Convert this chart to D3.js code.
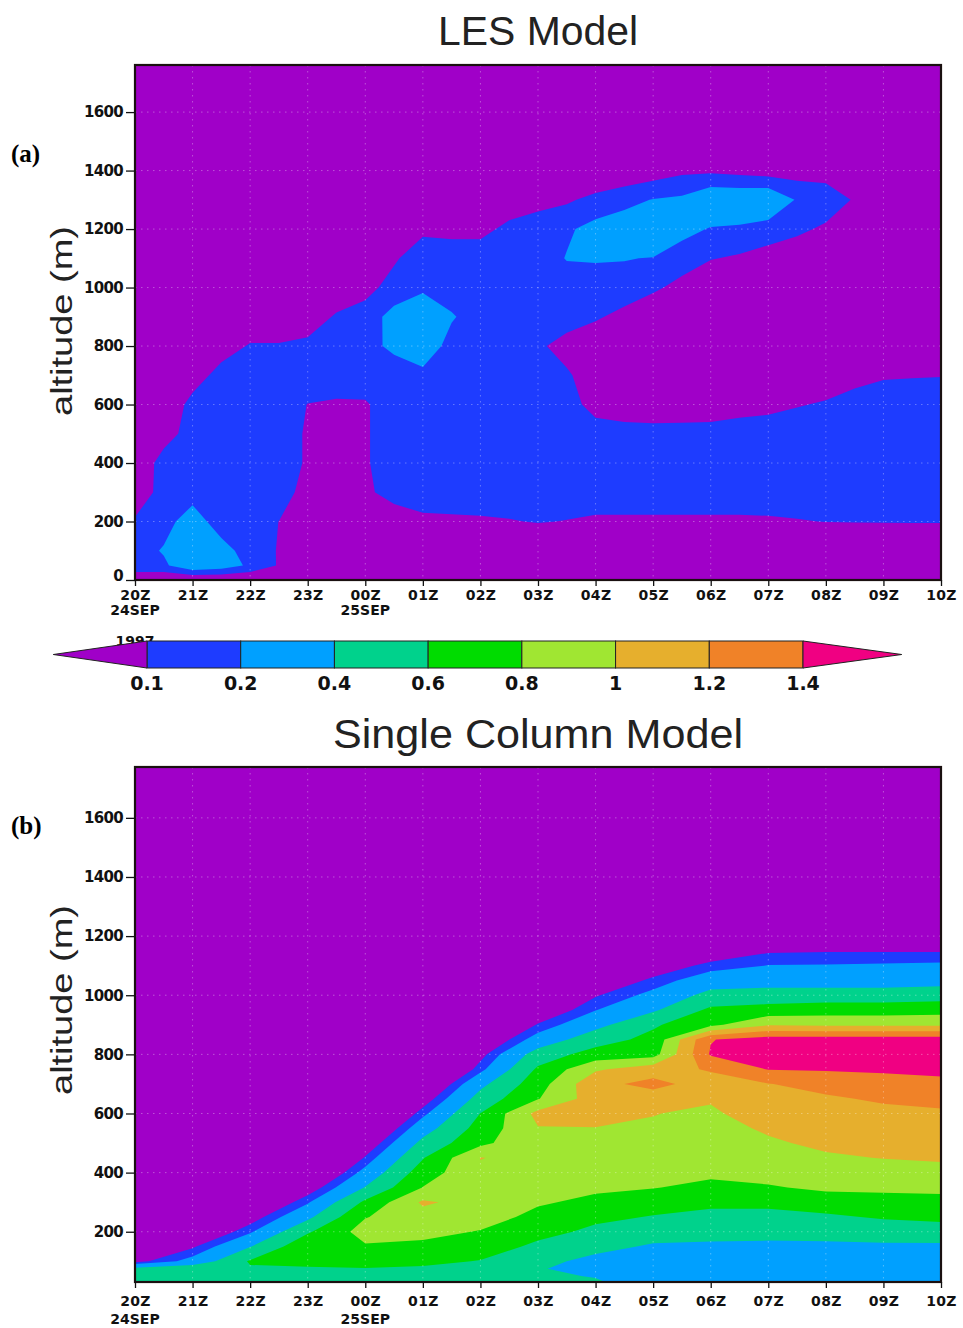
<!DOCTYPE html>
<html><head><meta charset="utf-8">
<script src="https://cdn.jsdelivr.net/npm/d3@7"></script>
<style>body{margin:0;background:#fff;} svg{display:block;}</style>
</head><body>
<svg id="chart" width="963" height="1328"></svg>
<script>
// ---------------- DATA ----------------
const levels = [0.1, 0.2, 0.4, 0.6, 0.8, 1, 1.2, 1.4];
const levelLabels = ["0.1", "0.2", "0.4", "0.6", "0.8", "1", "1.2", "1.4"];
const bandColors = ["rgb(160,0,200)", "rgb(30,60,255)", "rgb(0,160,255)", "rgb(0,210,140)",
  "rgb(0,220,0)", "rgb(160,230,50)", "rgb(230,175,45)", "rgb(240,130,40)", "rgb(240,0,130)"];
const hourLabels = ["20Z","21Z","22Z","23Z","00Z","01Z","02Z","03Z","04Z","05Z","06Z","07Z","08Z","09Z","10Z"];
const hourTicks = [0,1,2,3,4,5,6,7,8,9,10,11,12,13,14];
const dateLabels = [{h: 0, text: "24SEP"}, {h: 4, text: "25SEP"}];
const yearLabel = {h: 0, text: "1997"};
const altTicksA = [0, 200, 400, 600, 800, 1000, 1200, 1400, 1600];
const altTicksB = [200, 400, 600, 800, 1000, 1200, 1400, 1600];

// LES model: hours after 20Z (columns) x altitude in m (rows)
const lesTimes = [0,0.5,1,1.5,2,2.5,3,3.5,4,4.5,5,5.5,6,6.5,7,7.5,8,8.5,9,9.5,10,10.5,11,11.5,12,12.5,13,13.5,14];
const lesAlts = [0,50,100,200,300,400,500,600,700,800,900,1000,1100,1200,1300,1400,1500,1600,1700,1800];
const lesProfiles = [
  [0,0.18,0.15,0.115,0.015,0,0,0,0,0,0,0,0,0,0,0,0,0,0,0],
  [0,0.18,0.21,0.16,0.15,0.15,0.05,0,0,0,0,0,0,0,0,0,0,0,0,0],
  [0,0.29,0.3,0.256,0.156,0.15,0.15,0.14,0.04,0,0,0,0,0,0,0,0,0,0,0],
  [0,0.26,0.244,0.144,0.15,0.15,0.15,0.15,0.145,0.045,0,0,0,0,0,0,0,0,0,0],
  [0,0.18,0.15,0.15,0.15,0.15,0.15,0.15,0.15,0.11,0.01,0,0,0,0,0,0,0,0,0],
  [0,0.091,0.094,0.099,0.161,0.143,0.143,0.15,0.15,0.11,0.01,0,0,0,0,0,0,0,0,0],
  [0,0.03,0.03,0.04,0.05,0.09,0.09,0.098,0.15,0.13,0.03,0,0,0,0,0,0,0,0,0],
  [0,0.02,0.02,0.02,0.02,0.03,0.04,0.085,0.16,0.15,0.115,0.015,0,0,0,0,0,0,0,0],
  [0,0.02,0.03,0.05,0.08,0.09,0.09,0.09,0.15,0.1685,0.157,0.057,0,0,0,0,0,0,0,0],
  [0,0.02,0.03,0.04,0.14,0.15,0.15,0.15,0.15,0.221,0.23,0.15,0.083,0,0,0,0,0,0,0],
  [0,0.02,0.03,0.07,0.17,0.15,0.15,0.15,0.172,0.272,0.281,0.181,0.174,0.074,0,0,0,0,0,0],
  [0,0.02,0.03,0.08,0.16,0.15,0.15,0.15,0.15,0.16,0.21,0.15,0.165,0.065,0,0,0,0,0,0],
  [0,0.02,0.03,0.085,0.16,0.15,0.15,0.15,0.15,0.15,0.15,0.15,0.165,0.065,0,0,0,0,0,0],
  [0,0.02,0.03,0.095,0.15,0.15,0.15,0.15,0.15,0.15,0.15,0.15,0.15,0.13,0.03,0,0,0,0,0],
  [0,0.01,0.005,0.105,0.15,0.15,0.15,0.15,0.15,0.122,0.15,0.15,0.15,0.16,0.06,0,0,0,0,0],
  [0,0.01,0.005,0.097,0.15,0.15,0.15,0.15,0.117,0.05,0.159,0.15,0.205,0.185,0.085,0,0,0,0,0],
  [0,0.01,0.005,0.085,0.15,0.15,0.155,0.055,0.03,0.015,0.115,0.116,0.216,0.235,0.13,0,0,0,0,0],
  [0,0.01,0.005,0.085,0.15,0.15,0.14,0.04,0.02,0.02,0.065,0.165,0.204,0.265,0.165,0.021,0,0,0,0],
  [0,0.01,0.005,0.085,0.15,0.15,0.136,0.036,0.01,0.01,0.019,0.119,0.196,0.3,0.205,0.0435,0,0,0,0],
  [0,0.01,0.005,0.085,0.15,0.15,0.138,0.038,0.01,0.01,0.01,0.067,0.15,0.233,0.22,0.079,0,0,0,0],
  [0,0.01,0.005,0.085,0.15,0.15,0.14,0.04,0.01,0.01,0.01,0.006,0.106,0.193,0.294,0.081,0,0,0,0],
  [0,0.01,0.005,0.085,0.15,0.15,0.155,0.055,0.01,0.01,0.01,0.01,0.085,0.185,0.289,0.067,0,0,0,0],
  [0,0.01,0.005,0.088,0.15,0.15,0.165,0.065,0.01,0.01,0.01,0.01,0.055,0.155,0.3,0.05,0,0,0,0],
  [0,0.01,0.005,0.095,0.15,0.15,0.19,0.09,0.01,0.01,0.01,0.01,0.025,0.125,0.19,0.052,0,0,0,0],
  [0,0.01,0.005,0.102,0.15,0.15,0.15,0.115,0.015,0.01,0.01,0.01,0.01,0.08,0.17,0.047,0,0,0,0],
  [0,0.01,0.005,0.103,0.15,0.15,0.15,0.155,0.055,0.01,0.01,0.01,0.01,0.05,0.0886,0.03,0,0,0,0],
  [0,0.01,0.005,0.104,0.15,0.15,0.15,0.184,0.084,0.01,0,0,0,0,0,0,0,0,0,0],
  [0,0.01,0.005,0.105,0.15,0.15,0.15,0.19,0.09,0.01,0,0,0,0,0,0,0,0,0,0],
  [0,0.01,0.005,0.105,0.15,0.15,0.15,0.194,0.094,0.01,0,0,0,0,0,0,0,0,0,0]
];

// Single Column Model: hourly columns x altitude in m (rows)
const scmTimes = [0,1,2,3,4,5,6,7,8,9,10,11,12,13,14];
const scmAlts = [30,50,75,100,150,200,250,300,350,400,450,500,550,600,650,700,750,800,850,900,950,1000,1050,1100,1150,1200,1800];
const scmProfiles = [
  [0.5,0.5,0.45,0.05,-0.3,-0.6,-0.9,-1,-1,-1,-1,-1,-1,-1,-1,-1,-1,-1,-1,-1,-1,-1,-1,-1,-1,-1,-1],
  [0.5,0.52,0.55,0.257,0.079,-0.1,-0.28,-0.46,-0.64,-0.82,-1,-1,-1,-1,-1,-1,-1,-1,-1,-1,-1,-1,-1,-1,-1,-1,-1],
  [0.5,0.52,0.58,0.62,0.391,0.179,0.021,-0.146,-0.31,-0.48,-0.65,-0.81,-0.98,-1,-1,-1,-1,-1,-1,-1,-1,-1,-1,-1,-1,-1,-1],
  [0.5,0.52,0.58,0.66,0.75,0.576,0.356,0.183,0.003,-0.177,-0.357,-0.537,-0.717,-0.897,-1,-1,-1,-1,-1,-1,-1,-1,-1,-1,-1,-1,-1],
  [0.5,0.52,0.59,0.68,0.78,0.88,0.79,0.636,0.409,0.257,0.114,-0.026,-0.166,-0.306,-0.446,-0.586,-0.726,-0.866,-1,-1,-1,-1,-1,-1,-1,-1,-1],
  [0.5,0.52,0.57,0.65,0.76,0.85,0.93,1.03,0.805,0.698,0.587,0.453,0.31,0.161,0.011,-0.139,-0.289,-0.439,-0.589,-0.739,-0.889,-1,-1,-1,-1,-1,-1],
  [0.5,0.52,0.56,0.59,0.7,0.79,0.88,0.92,0.95,0.97,1.005,0.75,0.676,0.603,0.477,0.349,0.157,0.051,-0.079,-0.21,-0.34,-0.47,-0.6,-0.73,-0.86,-1,-1],
  [0.45,0.43,0.41,0.45,0.56,0.66,0.75,0.82,0.88,0.92,0.95,0.97,0.99,1.06,0.79,0.71,0.63,0.49,0.275,0.1125,-0.04,-0.19,-0.34,-0.49,-0.64,-0.79,-1],
  [0.42,0.39,0.35,0.35,0.45,0.56,0.64,0.76,0.83,0.89,0.93,0.96,0.995,1.06,1.1,1.15,0.97,0.68,0.516,0.34,0.195,0.087,-0.023,-0.133,-0.243,-0.353,-1],
  [0.3,0.3,0.32,0.34,0.38,0.47,0.59,0.68,0.81,0.87,0.92,0.95,0.98,1.005,1.12,1.25,1.12,0.72,0.656,0.573,0.372,0.246,0.127,0.014,-0.1,-0.21,-1],
  [0.28,0.28,0.3,0.32,0.37,0.46,0.55,0.64,0.74,0.85,0.9,0.93,0.95,0.97,1.02,1.12,1.22,1.42,1.39,0.75,0.64,0.463,0.304,0.137,0,-0.137,-1],
  [0.25,0.26,0.28,0.3,0.36,0.46,0.55,0.64,0.78,0.88,0.94,0.98,1.02,1.1,1.16,1.195,1.41,1.52,1.5,0.98,0.68,0.48,0.324,0.205,0.083,-0.04,-1],
  [0.24,0.25,0.27,0.29,0.36,0.47,0.57,0.7,0.84,0.93,0.98,1.03,1.08,1.13,1.18,1.25,1.42,1.52,1.5,0.97,0.7,0.5,0.3,0.21,0.09,-0.03,-1],
  [0.23,0.24,0.26,0.28,0.37,0.49,0.62,0.73,0.84,0.93,1.005,1.06,1.11,1.16,1.22,1.32,1.43,1.53,1.5,0.97,0.7,0.5,0.3,0.22,0.09,-0.03,-1],
  [0.22,0.23,0.25,0.27,0.37,0.5,0.65,0.74,0.85,0.95,1.02,1.08,1.13,1.18,1.24,1.35,1.45,1.54,1.5,0.97,0.72,0.52,0.32,0.23,0.09,-0.03,-1]
];

// ---------------- DRAWING ----------------
const svg = d3.select("#chart");
const tickFont = "'DejaVu Sans', 'Liberation Sans', sans-serif";

function drawPanel(cfg) {
  const x = d3.scaleLinear().domain([0, 14]).range([135, 941]);
  const y = d3.scaleLinear().domain(cfg.altDomain).range([cfg.yBot, cfg.yTop]);
  const g = svg.append("g");
  const clipId = "clip" + cfg.id;
  svg.append("clipPath").attr("id", clipId).append("rect")
    .attr("x", 135).attr("y", cfg.yTop).attr("width", 941 - 135).attr("height", cfg.yBot - cfg.yTop);

  const n = cfg.times.length, m = cfg.alts.length;
  const values = new Array(n * m);
  for (let i = 0; i < n; i++) for (let j = 0; j < m; j++) values[i + j * n] = cfg.profiles[i][j];
  const idxT = d3.scaleLinear().domain(d3.range(n)).range(cfg.times);
  const idxA = d3.scaleLinear().domain(d3.range(m)).range(cfg.alts);
  const proj = d3.geoTransform({
    point: function(px, py) { this.stream.point(x(idxT(px - 0.5)), y(idxA(py - 0.5))); }
  });
  const path = d3.geoPath(proj);
  const bands = d3.contours().size([n, m]).thresholds(levels)(values);

  const plot = g.append("g").attr("clip-path", `url(#${clipId})`);
  plot.append("rect").attr("x", 135).attr("y", cfg.yTop).attr("width", 806)
    .attr("height", cfg.yBot - cfg.yTop).attr("fill", bandColors[0]);
  plot.selectAll("path.band").data(bands).join("path")
    .attr("class", "band")
    .attr("d", path)
    .attr("fill", (d, i) => bandColors[i + 1]);

  // dotted grid
  const grid = plot.append("g").attr("stroke", "rgba(255,255,255,0.32)")
    .attr("stroke-width", 1).attr("stroke-dasharray", "1.5,4.5");
  grid.selectAll("line.v").data(hourTicks.slice(1, -1)).join("line")
    .attr("x1", d => x(d)).attr("x2", d => x(d)).attr("y1", cfg.yTop).attr("y2", cfg.yBot);
  grid.selectAll("line.h").data(altTicksB).join("line")
    .attr("x1", 135).attr("x2", 941).attr("y1", d => y(d)).attr("y2", d => y(d));

  // frame
  g.append("rect").attr("x", 135).attr("y", cfg.yTop).attr("width", 806)
    .attr("height", cfg.yBot - cfg.yTop).attr("fill", "none")
    .attr("stroke", "#1a1010").attr("stroke-width", 2.2);

  // axes
  const ya = g.append("g").attr("transform", "translate(135,0)")
    .call(d3.axisLeft(y).tickValues(cfg.altTicks).tickSize(9).tickPadding(3).tickFormat(d3.format("d")));
  ya.select(".domain").remove();
  ya.selectAll("line").attr("stroke", "#111").attr("stroke-width", 1.3);
  ya.selectAll("text").attr("font-family", tickFont).attr("font-size", 15).attr("font-weight", "bold")
    .attr("fill", "#111").attr("letter-spacing", -0.7)
    .attr("dy", d => d === 0 ? "0.05em" : "0.32em");

  const xa = g.append("g").attr("transform", `translate(0,${cfg.yBot})`)
    .call(d3.axisBottom(x).tickValues(hourTicks).tickSize(6).tickPadding(cfg.xPad).tickFormat(i => hourLabels[i]));
  xa.select(".domain").remove();
  xa.selectAll("line").attr("stroke", "#111").attr("stroke-width", 1.3);
  xa.selectAll("text").attr("font-family", tickFont).attr("font-size", 14).attr("font-weight", "bold")
    .attr("fill", "#111").attr("letter-spacing", 0.3);

  const dl = g.append("g").attr("font-family", tickFont).attr("font-size", 14)
    .attr("font-weight", "bold").attr("fill", "#111").attr("text-anchor", "middle");
  dl.selectAll("text.date").data(dateLabels).join("text").attr("class", "date")
    .attr("x", d => x(d.h)).attr("y", cfg.dateY).text(d => d.text);
  if (cfg.showYear) {
    dl.append("text").attr("x", x(yearLabel.h)).attr("y", cfg.dateY + 31).text(yearLabel.text);
  }

  // titles and labels
  svg.append("text").attr("x", 538).attr("y", cfg.titleY).attr("text-anchor", "middle")
    .attr("font-family", "'Liberation Sans', Arial, sans-serif").attr("font-size", 40)
    .attr("fill", "#222").attr("textLength", cfg.titleLen).attr("lengthAdjust", "spacingAndGlyphs")
    .text(cfg.title);
  svg.append("text").attr("transform", `translate(72,${cfg.labelY}) rotate(-90)`).attr("text-anchor", "middle")
    .attr("font-family", "'Liberation Sans', Arial, sans-serif").attr("font-size", 30)
    .attr("fill", "#222").attr("textLength", 190).attr("lengthAdjust", "spacingAndGlyphs")
    .text("altitude (m)");
  svg.append("text").attr("x", 11).attr("y", cfg.letterY)
    .attr("font-family", "'Liberation Serif', 'Times New Roman', serif").attr("font-size", 25)
    .attr("font-weight", "bold").attr("fill", "#000").text(cfg.letter);
}

drawPanel({id: "a", times: lesTimes, alts: lesAlts, profiles: lesProfiles,
  altDomain: [0, 1761], yTop: 65, yBot: 580, altTicks: altTicksA, xPad: 4, dateY: 615,
  showYear: true, title: "LES Model", titleY: 45, titleLen: 200, labelY: 321, letter: "(a)", letterY: 162});

// colorbar (drawn after panel a so it covers the year label bottom)
(function colorbar() {
  const cb = d3.scaleLinear().domain([0, levels.length - 1]).range([147, 803]);
  const top = 641, bot = 668, mid = (top + bot) / 2;
  const g = svg.append("g");
  const segs = d3.range(levels.length - 1);
  g.selectAll("rect.cb").data(segs).join("rect").attr("class", "cb")
    .attr("x", i => cb(i)).attr("y", top).attr("width", i => cb(i + 1) - cb(i)).attr("height", bot - top)
    .attr("fill", i => bandColors[i + 1]).attr("stroke", "#222").attr("stroke-width", 1);
  g.append("path").attr("d", `M${cb(0)},${top}L${cb(-1)},${mid}L${cb(0)},${bot}Z`)
    .attr("fill", bandColors[0]).attr("stroke", "#222").attr("stroke-width", 1);
  const last = levels.length - 1;
  g.append("path").attr("d", `M${cb(last)},${top}L${cb(last + 1) + 5},${mid}L${cb(last)},${bot}Z`)
    .attr("fill", bandColors[bandColors.length - 1]).attr("stroke", "#222").attr("stroke-width", 1);
  g.selectAll("text.cbl").data(levelLabels).join("text").attr("class", "cbl")
    .attr("x", (d, i) => cb(i)).attr("y", 690).attr("text-anchor", "middle")
    .attr("font-family", tickFont).attr("font-size", 19).attr("font-weight", "bold").attr("fill", "#111")
    .text(d => d);
})();

drawPanel({id: "b", times: scmTimes, alts: scmAlts, profiles: scmProfiles,
  altDomain: [30, 1772], yTop: 767, yBot: 1282, altTicks: altTicksB, xPad: 8, dateY: 1324,
  showYear: false, title: "Single Column Model", titleY: 748, titleLen: 410, labelY: 1000, letter: "(b)", letterY: 834});
</script>
</body></html>
